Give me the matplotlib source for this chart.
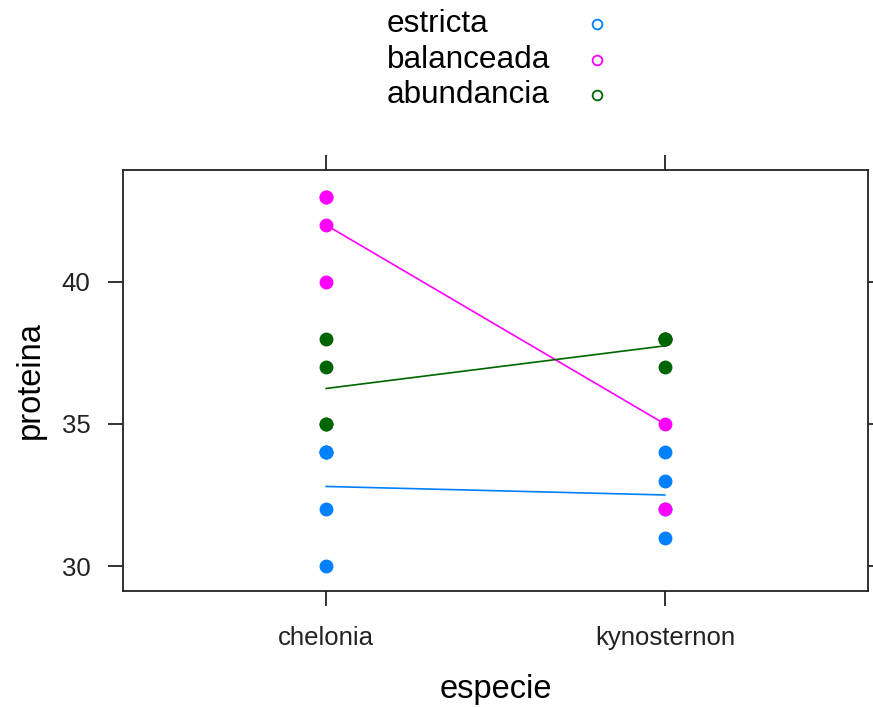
import matplotlib
matplotlib.use("Agg")
import matplotlib.pyplot as plt
from matplotlib.lines import Line2D
import numpy as np

plt.rcParams["font.family"] = ["Liberation Sans", "DejaVu Sans"]

# ── Data ───────────────────────────────────────────────────────────────────
ESPECIES = ["chelonia", "kynosternon"]
DIETAS   = ["estricta", "balanceada", "abundancia"]
COLORES  = ["#0080ff", "#ff00ff", "#006400"]

# proteina values per dieta, per especie (repeats overlap on the plot)
estricta_chel   = [30, 32, 34, 34, 34]
estricta_kyno   = [31, 32, 33, 34]
balanceada_chel = [40, 42, 43, 43]
balanceada_kyno = [32, 35, 38]
abundancia_chel = [35, 35, 37, 38]
abundancia_kyno = [37, 38, 38, 38]

DATA = {
    "estricta":   [estricta_chel, estricta_kyno],
    "balanceada": [balanceada_chel, balanceada_kyno],
    "abundancia": [abundancia_chel, abundancia_kyno],
}

Y_TICKS = [30, 35, 40]

# ── Figure ─────────────────────────────────────────────────────────────────
fig = plt.figure(figsize=(8.73, 7.08), dpi=100)
ax  = fig.add_axes([123 / 873, 117 / 708, 745 / 873, 421 / 708])

xpos = np.arange(1, len(ESPECIES) + 1)
for dieta, color in zip(DIETAS, COLORES):
    groups = DATA[dieta]
    for x, vals in zip(xpos, groups):
        ax.plot([x] * len(vals), vals, "o", color=color, ms=10, mew=0, zorder=3)
    means = [np.mean(v) for v in groups]
    ax.plot(xpos, means, "-", color=color, lw=1.2, zorder=2)

ax.set_xlim(0.4, 2.6)
ax.set_ylim(29.12, 43.94)
ax.set_xticks(xpos)
ax.set_xticklabels(ESPECIES)
ax.set_yticks(Y_TICKS)

ax.tick_params(direction="out", length=11, width=1.3, colors="#222222",
               top=True, right=True, labelsize=18.5, pad=12.5)
ax.tick_params(axis="x", pad=14)
for lbl in ax.get_xticklabels() + ax.get_yticklabels():
    lbl.set_color("#222222")
for sp in ax.spines.values():
    sp.set_linewidth(1.3)
    sp.set_color("#222222")

ax.set_ylabel("proteina", fontsize=23.5, va="center")
ax.yaxis.set_label_coords(-0.125, 0.5)
ax.set_xlabel("especie", fontsize=23.5, va="center")
ax.xaxis.set_label_coords(0.5, -0.235)

# ── Key (lattice style: text left, symbol right) ──────────────────────────
key_y = [24, 60, 95]
for dieta, color, yp in zip(DIETAS, COLORES, key_y):
    fy = 1 - yp / 708
    fig.text(387 / 873, fy, dieta, fontsize=22.7, ha="left", va="center")
    fig.add_artist(Line2D([597 / 873], [fy], marker="o", ms=7, mfc="none",
                          mec=color, mew=1.3, transform=fig.transFigure))

plt.savefig("out.png", dpi=100)
